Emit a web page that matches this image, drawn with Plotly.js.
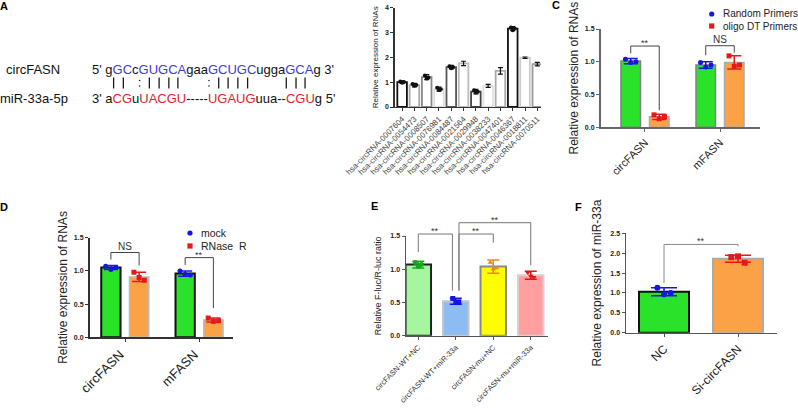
<!DOCTYPE html>
<html>
<head>
<meta charset="utf-8">
<script src="https://cdn.plot.ly/plotly-3.0.1.min.js"></script>
<style>
html,body{margin:0;padding:0;background:#fff;}
#chart{width:798px;height:408px;}
</style>
</head>
<body>
<div id="chart"></div>
<script>
// ---------------- DATA ----------------
// Panel A: sequence alignment (alternating plain / coloured segments)
const seqLabels = ['circFASN', 'miR-33a-5p'];
const circSeq = ["5' g", 'GC', 'c', 'GUGCA', 'gaa', 'GCUGC', 'ugga', 'GCA', "g 3'"];
const mirSeq = ["3' a", 'CG', 'u', 'UACGU', '-----', 'UGAUG', 'uua--', 'CGU', "g 5'"];
const pairLine = "    || :||||   :||||    |||    ";

// Panel B
const bCats = ['hsa-circRNA-0007604', 'hsa-circRNA-0054473', 'hsa-circRNA-0008507', 'hsa-circRNA-0076981',
  'hsa-circRNA-0084487', 'hsa-circRNA-0021564', 'hsa-circRNA-0029948', 'hsa-circRNA-0038233',
  'hsa-circRNA-0047401', 'hsa-circRNA-0046367', 'hsa-circRNA-0018811', 'hsa-circRNA-0070511'];
const bMeans = [1.00, 0.88, 1.20, 0.72, 1.60, 1.75, 0.62, 0.85, 1.45, 3.15, 1.98, 1.72];
const bSD = [0.05, 0.07, 0.10, 0.08, 0.07, 0.09, 0.09, 0.06, 0.13, 0.08, 0.03, 0.07];
const bReps = [[1.03, 0.97, 1.00], [0.92, 0.85, 0.88], [1.27, 1.15, 1.19], [0.77, 0.68, 0.71],
  [1.64, 1.56, 1.60], [], [0.67, 0.58, 0.61], [], [], [3.20, 3.09, 3.16], [], []];

// Panel C
const cCats = ['circFASN', 'mFASN'];
const cGroups = ['Random Primers', 'oligo DT Primers'];
const cRandom = [1.01, 0.95];
const cRandomSD = [0.04, 0.05];
const cRandomReps = [[1.04, 0.99, 1.00], [0.99, 0.92, 0.95]];
const cOligo = [0.16, 0.99];
const cOligoSD = [0.04, 0.10];
const cOligoReps = [[0.19, 0.13, 0.16], [1.09, 0.93, 0.95]];
const cSig = [['**', 1.24, 1.13, 0.26], ['NS', 1.245, 1.10, 1.14]];

// Panel D
const dCats = ['circFASN', 'mFASN'];
const dGroups = ['mock', 'RNase\u00a0 R'];
const dMock = [1.05, 0.96];
const dMockSD = [0.03, 0.04];
const dMockReps = [[1.07, 1.02, 1.05], [1.00, 0.95, 0.94]];
const dRnase = [0.91, 0.26];
const dRnaseSD = [0.07, 0.03];
const dRnaseReps = [[0.98, 0.90, 0.86], [0.29, 0.24, 0.25]];
const dSig = [['NS', 1.277, 1.17, 1.08], ['**', 1.20, 1.09, 0.44]];

// Panel E
const eCats = ['circFASN-WT+NC', 'circFASN-WT+miR-33a', 'circFASN-mu+NC', 'circFASN-mu+miR-33a'];
const eMeans = [1.07, 0.52, 1.04, 0.91];
const eSD = [0.05, 0.045, 0.10, 0.06];
const eReps = [[1.10, 1.04, 1.07], [0.56, 0.50, 0.51], [1.10, 1.00, 1.02], [0.95, 0.90, 0.88]];
const eSig = [[0, 1, '**', 1.53, 1.26, 0.68], [1, 2, '**', 1.53, 0.68, 1.40], [1, 3, '**', 1.70, 0.68, 1.06]];

// Panel F
const fCats = ['NC', 'Si-circFASN'];
const fMeans = [1.03, 1.86];
const fSD = [0.10, 0.09];
const fReps = [[1.13, 0.97, 1.00], [1.90, 1.92, 1.76]];
const fSig = [[0, 1, '**', 2.22, 1.25, 2.17]];

// ---------------- STYLE / HELPERS ----------------
const W = 798, H = 408;
const FONT = 'Arial, "Liberation Sans", sans-serif';
const BLUE_T = '#3c3cd8', RED_T = '#e3242b';
const BLUE_D = '#1616e0', RED_D = '#e41a1a';
const GREEN = '#2ae22a', ORANGE = '#fca246';
const dom = (a, b) => [a / W, b / W];
const vdom = (top, bottom) => [(H - bottom) / H, (H - top) / H];
const idx = arr => arr.map((_, i) => i);

const traces = [], shapes = [], annotations = [];

function addBar(ax, xs, ys, sd, o) {
  traces.push({
    type: 'bar', xaxis: 'x' + ax, yaxis: 'y' + ax, x: xs, y: ys,
    width: o.width, offset: o.offset,
    marker: {color: o.fill, line: {color: o.edge, width: o.edgeW || 1.5}},
    error_y: {type: 'data', array: sd, visible: true, color: o.errColor, thickness: o.errT || 1.5, width: o.capW || 6},
    showlegend: false, hoverinfo: 'skip'
  });
}
function addReps(ax, xs, reps, o) {
  const x = [], y = [];
  reps.forEach((r, i) => r.forEach((v, j) => { x.push(xs[i] + o.center + o.spread[j]); y.push(v); }));
  traces.push({
    type: 'scatter', mode: 'markers', xaxis: 'x' + ax, yaxis: 'y' + ax, x: x, y: y,
    marker: {color: o.color, size: o.size, symbol: o.symbol}, showlegend: false, hoverinfo: 'skip', cliponaxis: false
  });
}
function addBracket(ax, yMax, xa, xb, h, ya, yb, label, color, fs) {
  const xr = 'x' + ax, yr = 'y' + ax + ' domain';
  const ln = {color: color, width: 1};
  shapes.push({type: 'line', xref: xr, yref: yr, x0: xa, x1: xa, y0: ya / yMax, y1: h / yMax, line: ln});
  shapes.push({type: 'line', xref: xr, yref: yr, x0: xa, x1: xb, y0: h / yMax, y1: h / yMax, line: ln});
  shapes.push({type: 'line', xref: xr, yref: yr, x0: xb, x1: xb, y0: h / yMax, y1: yb / yMax, line: ln});
  annotations.push({xref: xr, yref: yr, x: (xa + xb) / 2, y: h / yMax, yanchor: 'bottom',
    yshift: label === '**' ? -4 : -1,
    text: label, showarrow: false, font: {size: fs, color: '#333'}});
}
function textAt(x, y, text, o) {
  annotations.push(Object.assign({xref: 'paper', yref: 'paper', x: x / W, y: 1 - y / H, text: text,
    showarrow: false, xanchor: 'left', yanchor: 'middle', font: {size: 12, color: '#111'}}, o || {}));
}

// ---------------- PANEL A ----------------
const colourSeq = (parts, col) => parts.map((p, i) => i % 2 ? '<span style="color:' + col + '">' + p + '</span>' : p).join('');
textAt(33, 69, seqLabels[0], {xanchor: 'center', font: {size: 13, color: '#111'}});
textAt(34, 98, seqLabels[1], {xanchor: 'center', font: {size: 13, color: '#111'}});
const seqX = 90;
textAt(seqX, 69, colourSeq(circSeq, BLUE_T), {font: {size: 13, color: '#111'}});
textAt(seqX, 98, colourSeq(mirSeq, RED_T), {font: {size: 13, color: '#111'}});
(function () {
  const ctx = document.createElement('canvas').getContext('2d');
  ctx.font = '13px "Liberation Sans", Arial';
  const top = circSeq.join('');
  for (let i = 0; i < pairLine.length; i++) {
    const ch = pairLine[i];
    if (ch === ' ') continue;
    const cx = (seqX + 1 + ctx.measureText(top.slice(0, i)).width + ctx.measureText(top[i]).width / 2 - 3) / W;
    if (ch === '|') {
      shapes.push({type: 'line', xref: 'paper', yref: 'paper', x0: cx, x1: cx, y0: 1 - 77.5 / H, y1: 1 - 88.5 / H,
        line: {color: '#1a1a1a', width: 1.3}});
    } else {
      [80.5, 86].forEach(yy => shapes.push({type: 'circle', xref: 'paper', yref: 'paper',
        x0: cx - 0.8 / W, x1: cx + 0.8 / W, y0: 1 - (yy + 0.8) / H, y1: 1 - (yy - 0.8) / H,
        fillcolor: '#1a1a1a', line: {width: 0}}));
    }
  }
})();

// ---------------- PANEL B ----------------
const bEdge = ['#111', '#aaa', '#888', '#ddd', '#555', '#bbb', '#444', '#e0e0e0', '#aaa', '#111', '#ccc', '#999'];
addBar('', idx(bCats), bMeans, bSD, {width: 0.78, offset: -0.39, fill: '#fff', edge: bEdge, edgeW: 1.8, errColor: '#111', errT: 1.2, capW: 2.5});
addReps('', idx(bCats), bReps, {center: 0, spread: [-0.15, 0, 0.15], color: '#111', size: 4, symbol: 'circle'});

// ---------------- PANEL C ----------------
const gOff = 0.19, gW = 0.26;
addBar('2', idx(cCats), cRandom, cRandomSD, {width: gW, offset: -gOff - gW / 2, fill: GREEN, edge: '#808080', edgeW: 1.5, errColor: BLUE_D, capW: 7});
addBar('2', idx(cCats), cOligo, cOligoSD, {width: gW, offset: gOff - gW / 2, fill: ORANGE, edge: '#aaa', edgeW: 1.5, errColor: RED_D, capW: 7});
addReps('2', idx(cCats), cRandomReps, {center: -gOff, spread: [-0.07, 0, 0.07], color: BLUE_D, size: 5, symbol: 'circle'});
addReps('2', idx(cCats), cOligoReps, {center: gOff, spread: [-0.07, 0, 0.07], color: RED_D, size: 5, symbol: 'square'});
cSig.forEach((s, i) => addBracket('2', 1.5, i - gOff, i + gOff, s[1], s[2], s[3], s[0], '#444', s[0] === 'NS' ? 10 : 9));

// ---------------- PANEL D ----------------
addBar('3', idx(dCats), dMock, dMockSD, {width: gW, offset: -gOff - gW / 2, fill: GREEN, edge: '#111', edgeW: 2, errColor: BLUE_D, capW: 7});
addBar('3', idx(dCats), dRnase, dRnaseSD, {width: gW, offset: gOff - gW / 2, fill: ORANGE, edge: '#bbb', edgeW: 1.5, errColor: RED_D, capW: 7});
addReps('3', idx(dCats), dMockReps, {center: -gOff, spread: [-0.07, 0, 0.07], color: BLUE_D, size: 5, symbol: 'circle'});
addReps('3', idx(dCats), dRnaseReps, {center: gOff, spread: [-0.07, 0, 0.07], color: RED_D, size: 5, symbol: 'square'});
dSig.forEach((s, i) => addBracket('3', 1.5, i - gOff, i + gOff, s[1], s[2], s[3], s[0], '#444', s[0] === 'NS' ? 10 : 9));

// ---------------- PANEL E ----------------
const eFill = ['#a6f6a0', '#8cbcf2', '#ffff00', '#ff9f9f'];
const eLine = ['#222', '#c4c4c4', '#888', '#e2cccc'];
const eDot = ['#1aa81a', '#1414e6', '#f08420', '#e41414'];
const eSym = ['circle', 'square', 'triangle-up', 'triangle-down'];
eCats.forEach((c, i) => {
  addBar('4', [i], [eMeans[i]], [eSD[i]], {width: 0.68, offset: -0.34, fill: eFill[i], edge: eLine[i], edgeW: 2, errColor: eDot[i], capW: 6});
  addReps('4', [i], [eReps[i]], {center: 0, spread: [-0.08, 0, 0.08], color: eDot[i], size: 5, symbol: eSym[i]});
});
eSig.forEach(s => {
  const xa = s[0] + (s[0] === 1 ? 0.085 : 0), xb = s[1] - (s[1] === 1 ? 0.09 : 0);
  addBracket('4', 1.5, xa, xb, s[3], s[4], s[5], s[2], '#777', 9);
});

// ---------------- PANEL F ----------------
const fFill = [GREEN, ORANGE], fEdge = ['#111', '#aaa'], fDot = [BLUE_D, RED_D], fSym = ['circle', 'square'];
fCats.forEach((c, i) => {
  addBar('5', [i], [fMeans[i]], [fSD[i]], {width: 0.676, offset: -0.338, fill: fFill[i], edge: fEdge[i], edgeW: 2, errColor: fDot[i], capW: 13});
  addReps('5', [i], [fReps[i]], {center: 0, spread: [-0.09, 0, 0.09], color: fDot[i], size: 6, symbol: fSym[i]});
});
fSig.forEach(s => addBracket('5', 2.5, s[0], s[1], s[3], s[4], s[5], s[2], '#888', 9));

// ---------------- LEGENDS (C, D) ----------------
function legendItem(x, y, sym, col, label, fs, gap) {
  const r = 2.6;
  shapes.push({type: sym === 'circle' ? 'circle' : 'rect', xref: 'paper', yref: 'paper',
    x0: (x - r) / W, x1: (x + r) / W, y0: 1 - (y + r) / H, y1: 1 - (y - r) / H,
    fillcolor: col, line: {width: 0}});
  textAt(x + gap, y, label, {font: {size: fs, color: '#222'}});
}
legendItem(711.7, 14, 'circle', BLUE_D, cGroups[0], 10, 9.5);
legendItem(711.7, 26, 'square', RED_D, cGroups[1], 10, 9.5);
legendItem(190, 233, 'circle', BLUE_D, dGroups[0], 10.5, 9);
legendItem(190, 246, 'square', RED_D, dGroups[1], 10.5, 9);

// ---------------- PANEL LETTERS ----------------
[['A', 4, 6], ['C', 556, 5], ['D', 4, 207], ['E', 374, 206], ['F', 578, 207]].forEach(p =>
  textAt(p[1], p[2], '<b>' + p[0] + '</b>', {xanchor: 'center', font: {size: 11, color: '#000'}}));

// ---------------- AXES ----------------
const base = {showgrid: false, zeroline: false, showline: true, ticks: 'outside', fixedrange: true};
const catAxis = (d, r, cats, anchor, fs, col, lc, lw, shift) => Object.assign({}, base, {
  domain: d, range: r, anchor: anchor, tickmode: 'array', tickvals: idx(cats), ticktext: cats,
  tickangle: -45, tickfont: {size: fs, color: col}, linecolor: lc, linewidth: lw, tickcolor: lc, ticklen: 3, tickwidth: 1,
  ticklabelshift: shift || 0
});
const valAxis = (d, r, dt, fmt, anchor, tfs, title, tfsize, standoff, lc, lw) => Object.assign({}, base, {
  domain: d, range: r, anchor: anchor, dtick: dt, tick0: 0, tickformat: fmt,
  tickfont: {size: tfs, color: '#222', weight: 'bold'}, linecolor: lc, linewidth: lw, tickcolor: lc, ticklen: 3, tickwidth: 1,
  title: {text: title, font: {size: tfsize, color: '#222'}, standoff: standoff}
});

const layout = {
  width: W, height: H, margin: {l: 0, r: 0, t: 0, b: 0}, paper_bgcolor: '#fff', plot_bgcolor: 'rgba(0,0,0,0)',
  font: {family: FONT, color: '#222'}, showlegend: false, barmode: 'overlay',
  xaxis: catAxis(dom(394.5, 541), [-0.62, 11.3], bCats, 'y', 8, '#444', '#333', 1.2),
  yaxis: valAxis(vdom(7.5, 107), [0, 4], 1, 'd', 'x', 7, 'Relative expression of RNAs', 8, 5, '#333', 1.2),
  xaxis2: catAxis(dom(600.5, 760), [-0.593, 1.533], cCats, 'y2', 11, '#222', '#666', 1.5),
  yaxis2: valAxis(vdom(29, 127.3), [0, 1.5], 0.5, '.1f', 'x2', 7, 'Relative expression of RNAs', 12, 3, '#666', 1.5),
  xaxis3: catAxis(dom(89.5, 233.3), [-0.478, 1.458], dCats, 'y3', 13, '#222', '#333', 1.5, -5),
  yaxis3: valAxis(vdom(237.7, 337.3), [0, 1.5], 0.5, '.1f', 'x3', 7, 'Relative expression of RNAs', 12, 3, '#333', 1.5),
  xaxis4: catAxis(dom(406, 548), [-0.328, 3.46], eCats, 'y4', 7.5, '#333', '#555', 1.5),
  yaxis4: valAxis(vdom(236, 335.7), [0, 1.5], 0.5, '.1f', 'x4', 7, 'Relative F-luc/R-luc ratio', 9, 7, '#555', 1.5),
  xaxis5: catAxis(dom(626, 777), [-0.514, 1.527], fCats, 'y5', 12, '#222', '#555', 1.5),
  yaxis5: valAxis(vdom(233.3, 332.7), [0, 2.5], 0.5, '.1f', 'x5', 7, 'Relative expression of miR-33a', 12, 6, '#555', 1.5),
  shapes: shapes, annotations: annotations
};

Plotly.newPlot('chart', traces, layout, {staticPlot: true, displayModeBar: false});
</script>
</body>
</html>
